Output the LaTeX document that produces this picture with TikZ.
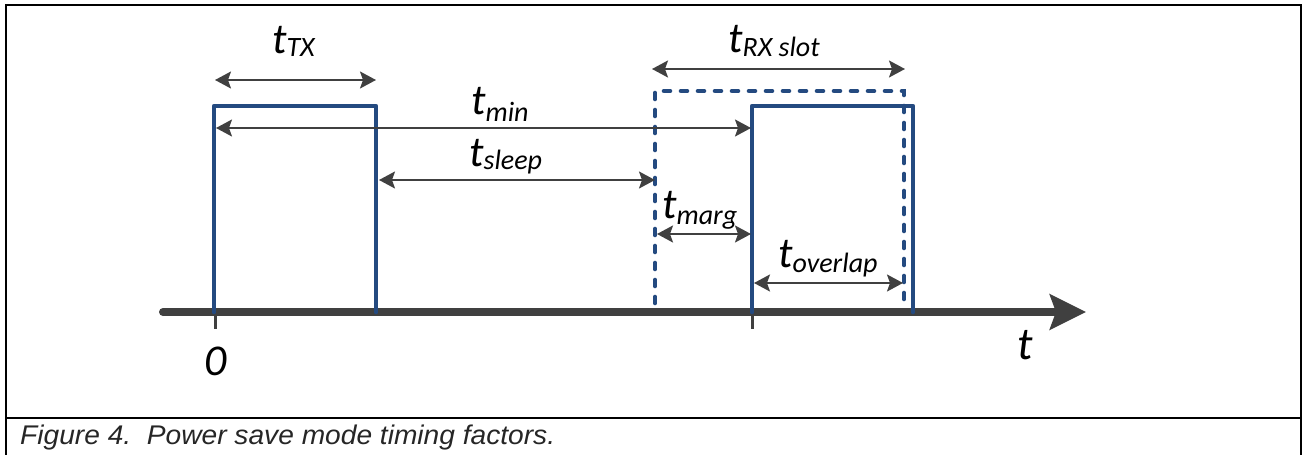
\documentclass[tikz,border=0pt]{standalone}
\usepackage{fontspec}
\usepackage{graphicx}
\usetikzlibrary{arrows.meta}
\newfontfamily\labfont{Carlito}
\newfontfamily\capfont{Liberation Sans}
\definecolor{pulseblue}{RGB}{36,74,128}
\definecolor{axisgray}{RGB}{64,64,64}
\newcommand{\tlab}[2]{{\labfont\itshape\fontsize{43}{43}\selectfont t}{\labfont\itshape\fontsize{28}{28}\selectfont\raisebox{-#2pt}{#1}}}
\begin{document}
\begin{tikzpicture}[x=1pt,y=-1pt,
  pulse/.style={draw=pulseblue,line width=4.6pt,line join=round,line cap=round},
  slot/.style={draw=pulseblue,line width=4.6pt,line cap=round,dash pattern=on 6pt off 11pt},
  dim/.style={draw=axisgray,line width=1.8pt,{Stealth[length=16pt,width=17pt,inset=3pt]}-{Stealth[length=16pt,width=17pt,inset=3pt]}},
  tick/.style={draw=axisgray,line width=3pt},
  lab/.style={anchor=base west,inner sep=0pt,text=black}]
\useasboundingbox (0,0) rectangle (1302,455);
% frame
\coordinate (f1) at (6,456); \coordinate (f2) at (6,5);
\coordinate (f3) at (1301,5); \coordinate (f4) at (1301,456);
\coordinate (c1) at (6,418); \coordinate (c2) at (1301,418);
\draw[line width=2pt,line join=miter] (f1) -- (f2) -- (f3) -- (f4);
\draw[line width=2pt] (c1) -- (c2);
% axis
\coordinate (ax0) at (163,312); \coordinate (ax1) at (1086,312);
\coordinate (k0a) at (215,312); \coordinate (k0b) at (215,329);
\coordinate (k1a) at (752,312); \coordinate (k1b) at (752,329);
\draw[tick] (k0a) -- (k0b);
\draw[tick] (k1a) -- (k1b);
\draw[draw=axisgray,line width=8pt,-{Stealth[length=36pt,width=35pt,inset=6pt]}] (ax0) -- (ax1);
\fill[axisgray] (ax0) circle (4pt);
% TX pulse
\coordinate (tx0) at (214,312); \coordinate (tx1) at (214,106);
\coordinate (tx2) at (376,106); \coordinate (tx3) at (376,312);
\draw[pulse] (tx0) -- (tx1) -- (tx2) -- (tx3);
% RX slot (dashed)
\coordinate (sl0) at (655,303); \coordinate (sl1) at (655,91);
\coordinate (sl2) at (904,91); \coordinate (sl3) at (904,303);
\draw[slot] (sl0) -- (sl1) -- (sl2) -- (sl3);
% RX pulse
\coordinate (rx0) at (752,312); \coordinate (rx1) at (752,106);
\coordinate (rx2) at (913,106); \coordinate (rx3) at (913,312);
\draw[pulse] (rx0) -- (rx1) -- (rx2) -- (rx3);
% dimension arrows
\coordinate (dTXa) at (215,80); \coordinate (dTXb) at (376,80);
\coordinate (dRXa) at (652,69); \coordinate (dRXb) at (905,69);
\coordinate (dMa) at (216,128); \coordinate (dMb) at (751,128);
\coordinate (dSa) at (379,180); \coordinate (dSb) at (655,180);
\coordinate (dGa) at (657,234); \coordinate (dGb) at (751,234);
\coordinate (dOa) at (754,283); \coordinate (dOb) at (903,283);
\draw[dim] (dTXa) -- (dTXb);
\draw[dim] (dRXa) -- (dRXb);
\draw[dim] (dMa) -- (dMb);
\draw[dim] (dSa) -- (dSb);
\draw[dim] (dGa) -- (dGb);
\draw[dim] (dOa) -- (dOb);
% labels
\node[lab] (lTX) at (272,53) {\tlab{TX}{3}};
\node[lab] (lRX) at (728,52) {\tlab{RX slot}{5}};
\node[lab] (lM) at (471,114) {\tlab{min}{7}};
\node[lab] (lS) at (469,166) {\tlab{sleep}{3}};
\node[lab] (lG) at (662,218) {\tlab{marg}{6}};
\node[lab] (lO) at (778,267) {\tlab{overlap}{5}};
\node[lab] (l0) at (204,375) {{\labfont\itshape\fontsize{44}{44}\selectfont 0}};
\node[lab] (lt) at (1017,359) {{\labfont\itshape\fontsize{46}{46}\selectfont t}};
% caption
\node[anchor=base west,inner sep=0pt,text=black!85] (cap) at (20,444)
  {\resizebox{535pt}{\height}{\capfont\itshape\fontsize{27}{27}\selectfont Figure 4.\ \ Power save mode timing factors.}};
\end{tikzpicture}
\end{document}
